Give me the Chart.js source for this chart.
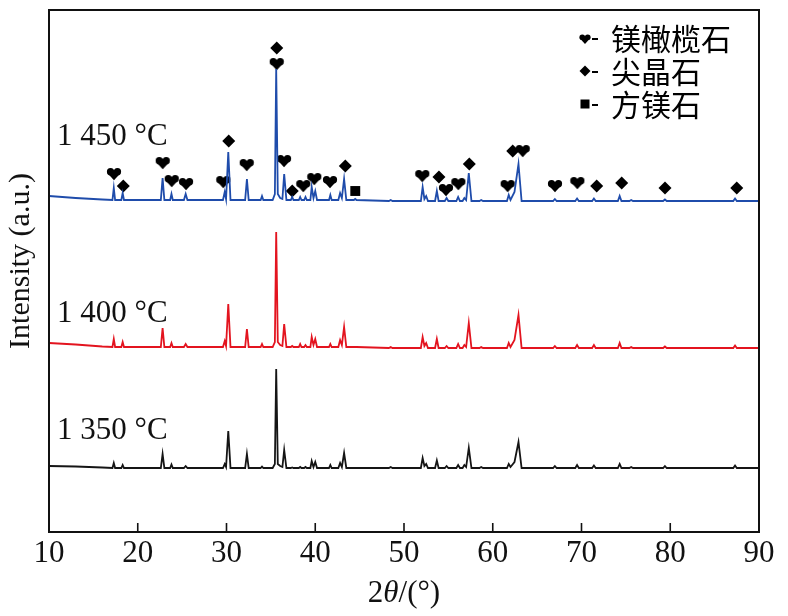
<!DOCTYPE html>
<html>
<head>
<meta charset="utf-8">
<script src="https://cdn.jsdelivr.net/npm/chart.js@4.4.1/dist/chart.umd.min.js"></script>
<style>
  body { margin: 0; background: #fff; }
</style>
</head>
<body>
<canvas id="chart" width="788" height="616"></canvas>
<script>
// 2theta grid (deg) shared by the three patterns
const twoTheta = [
  10, 13, 16,
  17.15, 17.3, 17.45,
  18.15, 18.3, 18.45,
  22.6, 22.8, 23.0,
  23.65, 23.8, 23.95,
  25.2, 25.4, 25.6,
  29.6, 29.8, 29.95, 30.2, 30.45,
  32.1, 32.3, 32.5,
  33.85, 34.0, 34.15,
  35.2, 35.45, 35.6, 35.78, 36.05, 36.3, 36.5, 36.75,
  37.25, 37.4, 37.55,
  38.15, 38.3, 38.45, 38.75, 38.9, 39.05,
  39.45, 39.6, 39.8, 40.0, 40.2,
  41.55, 41.7, 41.85,
  42.6, 42.8, 43.0, 43.25, 43.5,
  44.35, 44.5, 44.65,
  48.3, 48.5, 48.7,
  51.9, 52.1, 52.3, 52.5, 52.7,
  53.5, 53.7, 53.9,
  54.6, 54.8, 55.0,
  55.9, 56.1, 56.3, 56.6, 56.8, 57.0, 57.3, 57.6,
  58.5, 58.7, 58.9,
  61.6, 61.8, 62.0, 62.45, 62.9, 63.25,
  66.8, 67.0, 67.2,
  69.3, 69.5, 69.7,
  71.2, 71.4, 71.6,
  74.1, 74.3, 74.5,
  75.4, 75.6, 75.8,
  79.2, 79.4, 79.6,
  87.1, 87.3, 87.5,
  90
];

// intensities (a.u., offset patterns)
const int1350 = [
  66, 65.5, 64.5,
  64, 69, 64,
  64, 67, 64,
  64, 78, 64,
  64, 67.5, 64,
  64, 66, 64,
  64, 68, 65, 101, 64,
  64, 78, 64,
  64, 65.5, 64,
  64, 68, 163, 68, 66, 65, 82, 64,
  64, 64.5, 64,
  64, 65, 64, 64, 65, 64,
  64, 71, 65, 70, 64,
  64, 67, 64,
  64, 69, 65, 79, 64,
  64, 64, 64,
  64, 65, 64,
  64, 74, 66, 68, 64,
  64, 71.5, 64,
  64, 66, 64,
  64, 67, 64, 64, 67, 65, 84, 64,
  64, 65, 64,
  64, 68, 65, 70, 90, 64,
  64, 66, 64,
  64, 67, 64,
  64, 66.5, 64,
  64, 68, 64,
  64, 65, 64,
  64, 66, 64,
  64, 66.5, 64,
  64
];

const int1400 = [
  189, 187.5, 185.5,
  185, 193, 185,
  185, 190, 185,
  185, 204, 185,
  185, 189, 185,
  185, 188, 185,
  185, 191, 186, 228, 185,
  185, 203, 185,
  185, 188, 185,
  185, 190, 300, 190, 187, 186, 208, 185,
  185, 186, 185,
  185, 188, 185, 185, 187, 185,
  185, 195, 187, 193, 185,
  185, 188, 185,
  185, 192, 187, 205, 185,
  185, 185, 185,
  184, 185, 184,
  184, 195, 186, 189, 184,
  184, 193, 184,
  184, 186, 184,
  184, 188, 184, 184, 187, 185, 209, 184,
  184, 185, 184,
  184, 189, 185, 192, 217, 184,
  184, 186, 184,
  184, 187, 184,
  184, 187, 184,
  184, 189, 184,
  184, 185, 184,
  184, 185.5, 184,
  184, 186.5, 184,
  184
];

const int1450 = [
  336, 334, 332.5,
  332, 344, 332,
  332, 339, 332,
  332, 354, 332,
  332, 338, 332,
  332, 338, 332,
  332, 340, 333, 380, 332,
  332, 353, 332,
  332, 336, 332,
  332, 338, 463, 338, 334, 333, 358, 332,
  332, 335, 332,
  332, 335, 332, 332, 335, 332,
  332, 345, 334, 341, 332,
  332, 337, 332,
  332, 339, 334, 353, 332,
  332, 333, 332,
  331, 332, 331,
  331, 345, 333, 336, 331,
  331, 341, 331,
  331, 334, 331,
  331, 335, 331, 331, 334, 332, 359, 331,
  331, 332, 331,
  331, 337, 332, 340, 368, 331,
  331, 333, 331,
  331, 333.5, 331,
  331, 333.5, 331,
  331, 336, 331,
  331, 332, 331,
  331, 332.5, 331,
  331, 333.5, 331,
  331
];

// phase marks on the 1450 pattern: angle and height
const forsteriteAngles = [17.32, 22.81, 23.83, 25.44, 29.64, 32.28, 35.66, 36.48, 38.65, 39.89, 41.66, 52.06, 54.73, 56.12, 61.68, 63.38, 67.01, 69.53];
const forsteriteLevels = [358, 369, 351, 348, 350, 367, 468, 371, 346, 353, 350, 356, 342, 348, 346, 381, 346, 349];
const spinelAngles = [18.37, 30.25, 35.66, 37.41, 43.39, 53.94, 57.36, 62.25, 71.71, 74.53, 79.41, 87.49];
const spinelLevels = [346, 391, 484, 341, 366, 355, 368, 381, 346, 349, 344, 344];
const periclaseAngles = [44.51];
const periclaseLevels = [341];

const xTicks = [10, 20, 30, 40, 50, 60, 70, 80, 90];
const sampleNames = ["1 350 °C", "1 400 °C", "1 450 °C"];
const phaseNames = ["镁橄榄石", "尖晶石", "方镁石"];

const SERIF = "'Liberation Serif', 'Times New Roman', serif";

function heartPath(g, cx, cy, s) {
  const r = s * 0.26;
  const top = cy - s * 0.42;
  g.beginPath(); g.arc(cx - r * 0.95, top + r, r, 0, Math.PI * 2); g.fill();
  g.beginPath(); g.arc(cx + r * 0.95, top + r, r, 0, Math.PI * 2); g.fill();
  g.beginPath();
  g.moveTo(cx - r * 1.9, top + r * 1.25);
  g.lineTo(cx + r * 1.9, top + r * 1.25);
  g.lineTo(cx, cy + s * 0.45);
  g.closePath(); g.fill();
}

function makeHeart(box, size) {
  const c = document.createElement("canvas");
  c.width = box; c.height = box;
  const g = c.getContext("2d");
  g.fillStyle = "#000";
  heartPath(g, box / 2, box / 2, size);
  return c;
}

function pts(xs, ys) {
  return xs.map((x, i) => ({ x: x, y: ys[i] }));
}

const heart = makeHeart(16, 14);

const frame = {
  id: "frame",
  afterDraw(chart) {
    const { ctx, chartArea: a, scales } = chart;
    const x = scales.x, y = scales.y;
    ctx.save();
    // inward ticks
    ctx.strokeStyle = "#111";
    ctx.lineWidth = 1.6;
    xTicks.forEach(t => {
      const px = x.getPixelForValue(t);
      ctx.beginPath();
      ctx.moveTo(px, a.bottom);
      ctx.lineTo(px, a.bottom - 9);
      ctx.stroke();
    });
    // box
    ctx.lineWidth = 2;
    ctx.strokeRect(a.left, a.top, a.right - a.left, a.bottom - a.top);

    // sample labels
    ctx.fillStyle = "#111";
    ctx.font = "31px " + SERIF;
    ctx.textAlign = "left";
    ctx.textBaseline = "middle";
    const labelLevels = [101, 218, 395];
    sampleNames.forEach((s, i) => {
      ctx.fillText(s, x.getPixelForValue(10.9), y.getPixelForValue(labelLevels[i]));
    });

    // x title: 2θ/(°)
    const parts = [["2", "31px " + SERIF], ["θ", "italic 31px " + SERIF], ["/(°)", "31px " + SERIF]];
    let w = 0;
    parts.forEach(p => { ctx.font = p[1]; w += ctx.measureText(p[0]).width; });
    let cx = (a.left + a.right) / 2 - w / 2;
    parts.forEach(p => {
      ctx.font = p[1];
      ctx.fillText(p[0], cx, 594);
      cx += ctx.measureText(p[0]).width;
    });

    // y title
    ctx.save();
    ctx.translate(21, 261);
    ctx.rotate(-Math.PI / 2);
    ctx.textAlign = "center";
    ctx.font = "30px " + SERIF;
    ctx.fillText("Intensity (a.u.)", 0, 0);
    ctx.restore();

    // legend
    const rows = [38, 71, 104];
    ctx.fillStyle = "#000";
    rows.forEach((ry, i) => {
      if (i === 0) {
        heartPath(ctx, 585, ry + 1, 11);
      } else if (i === 1) {
        ctx.beginPath();
        ctx.moveTo(585, ry - 5.5); ctx.lineTo(590.5, ry); ctx.lineTo(585, ry + 5.5); ctx.lineTo(579.5, ry);
        ctx.closePath(); ctx.fill();
      } else {
        ctx.fillRect(580.5, ry - 4.5, 9, 9);
      }
      ctx.fillRect(592, ry, 6, 2);
      ctx.font = "30px 'Noto Sans CJK SC'";
      ctx.textAlign = "left";
      ctx.fillText(phaseNames[i], 611, ry + 1);
    });
    ctx.restore();
  }
};

const lineStyle = { pointRadius: 0, borderWidth: 1.8, tension: 0, showLine: true, fill: false };

new Chart(document.getElementById("chart").getContext("2d"), {
  type: "scatter",
  data: {
    datasets: [
      Object.assign({ label: sampleNames[0], data: pts(twoTheta, int1350), borderColor: "#151515" }, lineStyle),
      Object.assign({ label: sampleNames[1], data: pts(twoTheta, int1400), borderColor: "#e3141f" }, lineStyle),
      Object.assign({ label: sampleNames[2], data: pts(twoTheta, int1450), borderColor: "#1f4cab" }, lineStyle),
      { label: phaseNames[0], data: pts(forsteriteAngles, forsteriteLevels), pointStyle: heart, pointRadius: 8, showLine: false },
      { label: phaseNames[1], data: pts(spinelAngles, spinelLevels), pointStyle: "rectRot", pointRadius: 6.5, backgroundColor: "#000", borderColor: "#000", borderWidth: 0, showLine: false },
      { label: phaseNames[2], data: pts(periclaseAngles, periclaseLevels), pointStyle: "rect", pointRadius: 7, backgroundColor: "#000", borderColor: "#000", borderWidth: 0, showLine: false }
    ]
  },
  options: {
    responsive: false,
    animation: false,
    events: [],
    layout: { padding: { left: 49, right: 29, top: 10, bottom: 0 } },
    plugins: { legend: { display: false }, tooltip: { enabled: false } },
    scales: {
      x: {
        type: "linear",
        min: 10,
        max: 90,
        afterBuildTicks: s => { s.ticks = xTicks.map(v => ({ value: v })); },
        afterFit: s => { s.height = 84; },
        grid: { display: false, drawTicks: false },
        border: { display: false },
        ticks: { color: "#111", font: { family: SERIF, size: 31 }, padding: 3, maxRotation: 0, autoSkip: false }
      },
      y: {
        display: false,
        min: 0,
        max: 522
      }
    }
  },
  plugins: [frame]
});
</script>
</body>
</html>
